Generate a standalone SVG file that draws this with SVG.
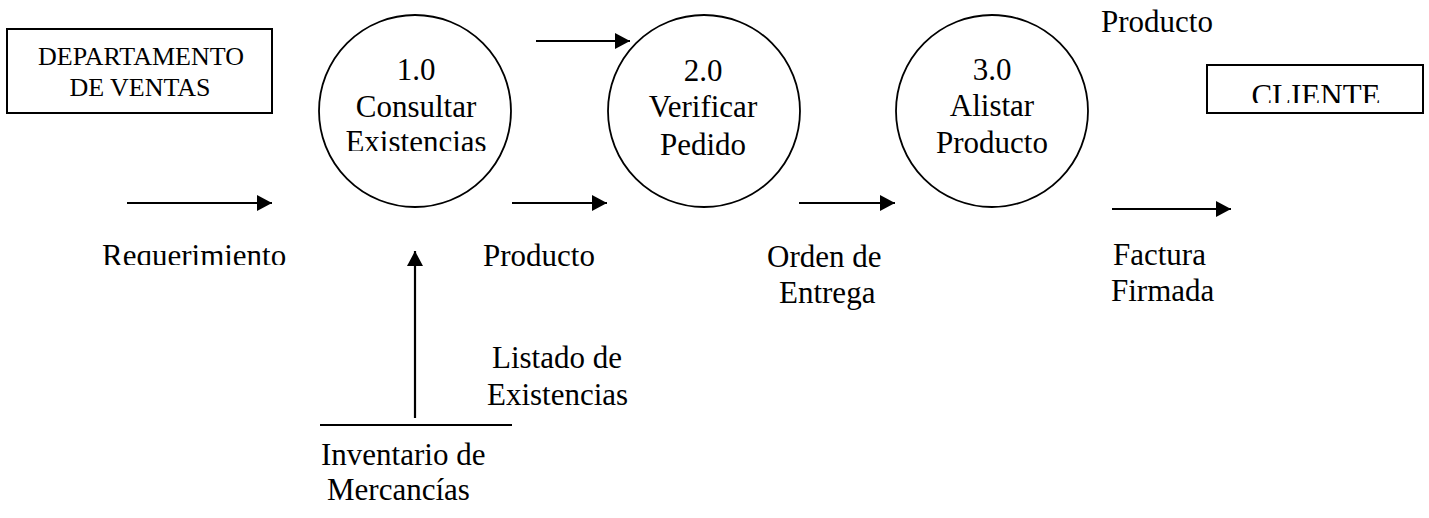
<svg xmlns="http://www.w3.org/2000/svg" width="1429" height="518" viewBox="0 0 1429 518" font-family="'Liberation Serif', 'Times New Roman', serif">
<style>
text{font-family:'Liberation Serif','Times New Roman',serif;font-size:31px;fill:#000}
.c{text-anchor:middle}
.ent{fill:#fff;stroke:#000;stroke-width:2}
.proc{fill:#fff;stroke:#000;stroke-width:1.8}
.flow{stroke:#000;stroke-width:2.2;fill:none}
</style>
<defs>
<marker id="ah" markerUnits="userSpaceOnUse" markerWidth="16" markerHeight="16" refX="15" refY="8" orient="auto">
<path d="M0,0 L15,8 L0,16 Z" fill="#000"/>
</marker>
<clipPath id="clip1"><rect x="300" y="0" width="230" height="151"/></clipPath>
<clipPath id="clipCli"><rect x="1207" y="60" width="220" height="43"/></clipPath>
<clipPath id="clipReq"><rect x="90" y="230" width="210" height="35"/></clipPath>
</defs>
<g id="dept">
<rect class="ent" x="7" y="29" width="265" height="84"/>
<text class="c" x="141" y="65" style="font-size:26px">DEPARTAMENTO</text>
<text class="c" x="140" y="96" style="font-size:26px">DE VENTAS</text>
</g>
<g id="p1">
<circle class="proc" cx="415" cy="111" r="96"/>
<g clip-path="url(#clip1)">
<text class="c" x="416" y="80">1.0</text>
<text class="c" x="416" y="117">Consultar</text>
<text class="c" x="416" y="152">Existencias</text>
</g>
</g>
<g id="p2">
<circle class="proc" cx="704" cy="111" r="96"/>
<text class="c" x="703" y="81">2.0</text>
<text class="c" x="703" y="117">Verificar</text>
<text class="c" x="703" y="155">Pedido</text>
</g>
<g id="p3">
<circle class="proc" cx="992" cy="111" r="96"/>
<text class="c" x="992" y="80">3.0</text>
<text class="c" x="992" y="116">Alistar</text>
<text class="c" x="992" y="153">Producto</text>
</g>
<g id="cliente">
<rect class="ent" x="1207" y="65" width="216" height="48"/>
<g clip-path="url(#clipCli)">
<text class="c" x="1316" y="106">CLIENTE</text>
</g>
</g>
<g id="store">
<line class="flow" x1="320" y1="425" x2="512" y2="425"/>
<text x="321" y="465">Inventario de</text>
<text x="327" y="500">Mercancías</text>
</g>
<g id="connectors">
<line class="flow" x1="127" y1="203" x2="272" y2="203" marker-end="url(#ah)"/>
<line class="flow" x1="512" y1="203" x2="607" y2="203" marker-end="url(#ah)"/>
<line class="flow" x1="536" y1="41" x2="630" y2="41" marker-end="url(#ah)"/>
<line class="flow" x1="799" y1="203" x2="895" y2="203" marker-end="url(#ah)"/>
<line class="flow" x1="1112" y1="209" x2="1231" y2="209" marker-end="url(#ah)"/>
<line class="flow" x1="415" y1="418" x2="415" y2="251" marker-end="url(#ah)"/>
</g>
<g id="labels">
<g clip-path="url(#clipReq)"><text x="102" y="266">Requerimiento</text></g>
<text x="483" y="266">Producto</text>
<text x="767" y="267">Orden de</text>
<text x="779" y="303">Entrega</text>
<text x="1113" y="265">Factura</text>
<text x="1111" y="301">Firmada</text>
<text x="492" y="368">Listado de</text>
<text x="487" y="405">Existencias</text>
<text x="1101" y="32">Producto</text>
</g>
</svg>
